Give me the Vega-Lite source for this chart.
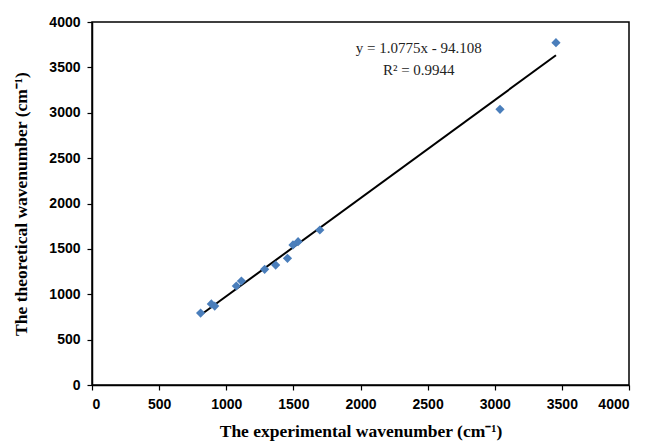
{
  "$schema": "https://vega.github.io/schema/vega-lite/v6.json",
  "width": 537,
  "height": 363,
  "autosize": "none",
  "padding": {"left": 92, "top": 22, "right": 19, "bottom": 56},
  "background": "white",
  "config": {
    "view": {"stroke": "black", "strokeWidth": 1.5},
    "axis": {
      "grid": false,
      "domainColor": "black",
      "domainWidth": 1.5,
      "tickColor": "black",
      "tickWidth": 1.2,
      "tickSize": 5,
      "labelFont": "Liberation Sans",
      "labelFontWeight": "bold",
      "labelFontSize": 14,
      "labelColor": "black",
      "titleFont": "Liberation Serif",
      "titleFontWeight": "bold",
      "titleFontSize": 17.5,
      "titleColor": "black"
    }
  },
  "datasets": {
    "pts": [
      {"exp": 809, "theo": 793},
      {"exp": 889, "theo": 893},
      {"exp": 914, "theo": 870},
      {"exp": 1075, "theo": 1091},
      {"exp": 1113, "theo": 1146},
      {"exp": 1286, "theo": 1275},
      {"exp": 1368, "theo": 1322},
      {"exp": 1456, "theo": 1396},
      {"exp": 1497, "theo": 1543},
      {"exp": 1535, "theo": 1579},
      {"exp": 1697, "theo": 1708},
      {"exp": 3039, "theo": 3038},
      {"exp": 3456, "theo": 3772}
    ],
    "notes": [
      {"exp": 2434, "theo": 3713, "label": "y = 1.0775x - 94.108"},
      {"exp": 2434, "theo": 3471, "label": "R² = 0.9944"}
    ]
  },
  "layer": [
    {
      "data": {"name": "pts"},
      "transform": [{"regression": "theo", "on": "exp"}],
      "mark": {"type": "line", "color": "black", "strokeWidth": 2},
      "encoding": {
        "x": {"field": "exp", "type": "quantitative"},
        "y": {"field": "theo", "type": "quantitative"}
      }
    },
    {
      "data": {"name": "pts"},
      "mark": {"type": "point", "shape": "diamond", "filled": true, "color": "#4a7ebb", "opacity": 1, "size": 85},
      "encoding": {
        "x": {
          "field": "exp", "type": "quantitative",
          "scale": {"domain": [0, 4000], "nice": false},
          "axis": {"values": [0, 500, 1000, 1500, 2000, 2500, 3000, 3500, 4000], "format": "d", "labelPadding": 7, "title": "The experimental wavenumber  (cm⁻¹)", "titlePadding": 11}
        },
        "y": {
          "field": "theo", "type": "quantitative",
          "scale": {"domain": [0, 4000], "nice": false},
          "axis": {"values": [0, 500, 1000, 1500, 2000, 2500, 3000, 3500, 4000], "format": "d", "labelPadding": 7, "title": "The theoretical wavenumber  (cm⁻¹)", "titlePadding": 18}
        }
      }
    },
    {
      "data": {"name": "notes"},
      "mark": {"type": "text", "font": "Liberation Serif", "fontSize": 15, "color": "#222", "align": "center", "baseline": "middle"},
      "encoding": {
        "x": {"field": "exp", "type": "quantitative"},
        "y": {"field": "theo", "type": "quantitative"},
        "text": {"field": "label"}
      }
    }
  ]
}
